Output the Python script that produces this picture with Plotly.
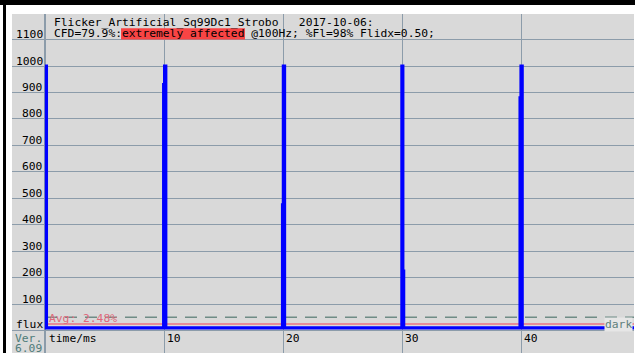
import plotly.graph_objects as go

# ---- data -------------------------------------------------------------
# sampled photodiode flux (1000 = full scale), time in ms; drawn as steps
time_ms = [0.00, 0.12,
           9.97, 10.05, 10.15,
           19.96, 20.03, 20.13,
           29.99, 30.07, 30.14,
           39.92, 40.00, 40.10,
           49.60]
flux = [1000, 10,
        930, 1000, 10,
        475, 1000, 10,
        1000, 225, 10,
        880, 1000, 10,
        10]

avg_pct = 2.48            # average flux in % of full scale
full_scale = 1000
threshold = 50            # dashed reference level
y_ticks = [100, 200, 300, 400, 500, 600, 700, 800, 900, 1000, 1100]
x_ticks = [10, 20, 30, 40]

title_line1 = "Flicker_Artificial_Sq99Dc1_Strobo\u00a0\u00a0\u00a02017-10-06:"
title_line2 = "CFD=79.9%:extremely affected @100Hz; %Fl=98% Flidx=0.50;"
verdict = "extremely affected"

# ---- geometry ---------------------------------------------------------
W, H = 635, 353
ML, MR, MT, MB = 12, 1, 14, 0
X0_PX, PX_PER_MS = 45.0, 11.9
Y0_PX, PX_PER_UNIT = 330.5, 0.2645


def t_of(px):
    return (px - X0_PX) / PX_PER_MS


def v_of(py):
    return (Y0_PX - py) / PX_PER_UNIT


def pxx(px):
    return (px - ML) / (W - ML - MR)


def pxy(py):
    return (H - MB - py) / (H - MT - MB)


FONT = "DejaVu Sans Mono"
FS = 11.3
GRID = "#8c9caa"

fig = go.Figure()

# dashed reference and average lines
fig.add_trace(go.Scatter(x=[0, time_ms[-1]], y=[threshold, threshold], mode="lines",
                         line=dict(color="#6f8c86", width=1.5, dash="12px,8px"),
                         hoverinfo="skip", showlegend=False))
avg_level = avg_pct / 100 * full_scale
fig.add_trace(go.Scatter(x=[0, time_ms[-1]], y=[avg_level, avg_level], mode="lines",
                         line=dict(color="#e68c98", width=2),
                         hoverinfo="skip", showlegend=False))
# flux waveform
fig.add_trace(go.Scatter(x=time_ms, y=flux, mode="lines",
                         line=dict(color="#0000ff", width=3.2, shape="hv"),
                         hoverinfo="skip", showlegend=False))

ann = []
# y labels
for v in y_ticks:
    ann.append(dict(x=pxx(44.5), xref="paper", y=v, yref="y", text=str(v),
                    xanchor="right", yanchor="middle", yshift=5, showarrow=False,
                    font=dict(family=FONT, size=FS, color="#000")))
ann.append(dict(x=pxx(44.5), xref="paper", y=0, yref="y", text="flux",
                xanchor="right", yanchor="middle", yshift=6, showarrow=False,
                font=dict(family=FONT, size=FS, color="#000")))
# x labels
for t in x_ticks:
    ann.append(dict(x=t, xref="x", y=pxy(338.5), yref="paper", text=str(t),
                    xanchor="left", yanchor="middle", xshift=1, showarrow=False,
                    font=dict(family=FONT, size=FS, color="#000")))
ann.append(dict(x=pxx(47), xref="paper", y=pxy(338.5), yref="paper", text="time/ms",
                xanchor="left", yanchor="middle", showarrow=False,
                font=dict(family=FONT, size=FS, color="#000")))
ann.append(dict(x=pxx(13), xref="paper", y=pxy(338), yref="paper", text="Ver.",
                xanchor="left", yanchor="middle", showarrow=False,
                font=dict(family=FONT, size=FS, color="#4f7c7a")))
ann.append(dict(x=pxx(13), xref="paper", y=pxy(348.5), yref="paper", text="6.09",
                xanchor="left", yanchor="middle", showarrow=False,
                font=dict(family=FONT, size=FS, color="#4f7c7a")))
# average label and dark marker
ann.append(dict(x=pxx(47), xref="paper", y=pxy(318), yref="paper",
                text=f"Avg: {avg_pct:.2f}%", xanchor="left", yanchor="middle",
                showarrow=False, font=dict(family=FONT, size=FS, color="#e0687a")))
ann.append(dict(x=pxx(633), xref="paper", y=pxy(324.5), yref="paper", text="dark",
                xanchor="right", yanchor="middle", showarrow=False, bgcolor="#e6e6e6",
                borderpad=0, font=dict(family=FONT, size=FS, color="#5f807c")))
# header lines
ann.append(dict(x=pxx(53), xref="paper", y=pxy(22.5), yref="paper", text=title_line1,
                xanchor="left", yanchor="middle", showarrow=False, borderpad=0,
                font=dict(family=FONT, size=FS, color="#000")))
ann.append(dict(x=pxx(53), xref="paper", y=pxy(33.5), yref="paper", text=title_line2,
                xanchor="left", yanchor="middle", showarrow=False, borderpad=0,
                font=dict(family=FONT, size=FS, color="#000")))

# red highlight behind the verdict text
cw = 0.602 * FS
start = title_line2.index(verdict)
hx0 = 53 + start * cw
hx1 = hx0 + len(verdict) * cw + 1.5
shapes = [
    dict(type="rect", xref="paper", yref="paper", x0=pxx(hx0), x1=pxx(hx1),
         y0=pxy(39.5), y1=pxy(28.3), fillcolor="#f84444", line=dict(width=0), layer="above"),
    # frame: black top band and left bar
    dict(type="rect", xref="paper", yref="paper", x0=pxx(0), x1=pxx(W),
         y0=pxy(5), y1=pxy(0), fillcolor="#000", line=dict(width=0)),
    dict(type="rect", xref="paper", yref="paper", x0=pxx(3), x1=pxx(6),
         y0=pxy(H), y1=pxy(0), fillcolor="#000", line=dict(width=0)),
]

fig.update_layout(
    width=W, height=H,
    margin=dict(l=ML, r=MR, t=MT, b=MB, pad=0),
    paper_bgcolor="#ffffff", plot_bgcolor="#d9d9d9",
    showlegend=False,
    xaxis=dict(range=[t_of(ML), t_of(W - MR)], tickvals=x_ticks, showticklabels=False,
               showgrid=True, gridcolor=GRID, gridwidth=1, ticks="",
               zeroline=True, zerolinecolor=GRID, zerolinewidth=2, showline=False,
               fixedrange=True),
    yaxis=dict(range=[v_of(H - MB), v_of(MT)], tickvals=[0] + y_ticks, showticklabels=False,
               showgrid=True, gridcolor=GRID, gridwidth=1, ticks="",
               zeroline=True, zerolinecolor=GRID, zerolinewidth=1, showline=False,
               fixedrange=True),
    annotations=ann,
    shapes=shapes,
)

fig.write_html("out.html", config={"displayModeBar": False})
